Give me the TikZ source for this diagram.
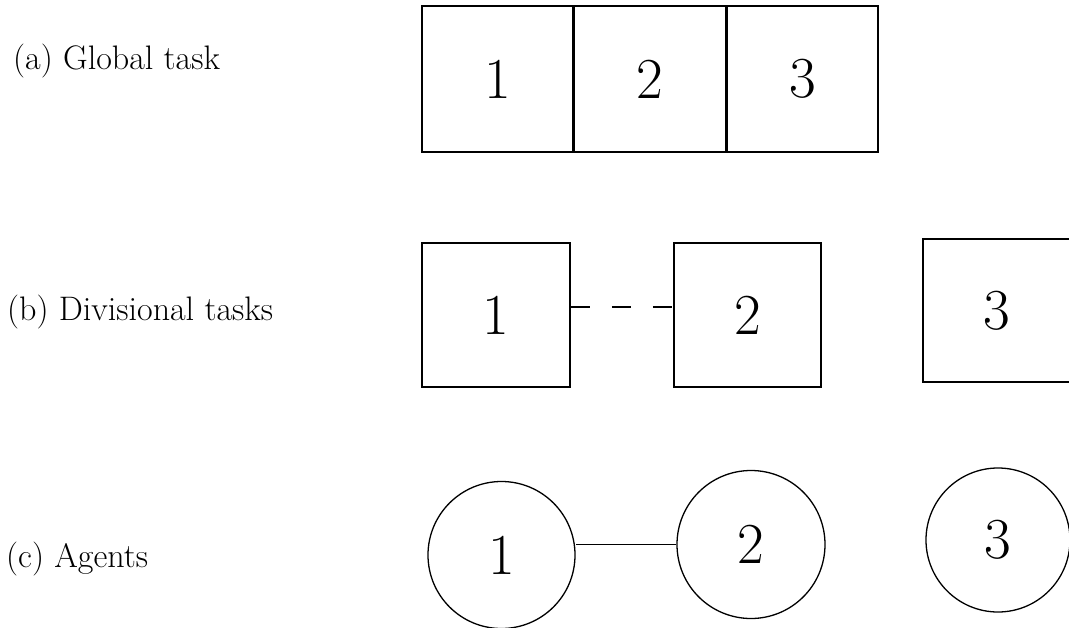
\documentclass[tikz,border=0pt]{standalone}
\usepackage{tikz}
\usetikzlibrary{positioning}

\begin{document}
\begin{tikzpicture}[x=1pt,y=-1pt,
  rowname/.style={anchor=base west,inner sep=0pt,font=\fontsize{34}{40}\selectfont},
  taskbox/.style={draw,line width=1.5pt,inner sep=0pt,minimum width=148pt,minimum height=144pt,
    font=\fontsize{58}{58}\selectfont},
  agent/.style={draw,circle,line width=1.3pt,inner sep=0pt,minimum size=147pt,
    font=\fontsize{58}{58}\selectfont},
  taskdash/.style={line width=1.5pt,dash pattern=on 19pt off 22pt}]
  \useasboundingbox (0,0) rectangle (1069,627);
  \node[rowname] (ra) at (13,69) {(a) Global task};
  \node[rowname] (rb) at (7,320) {(b) Divisional tasks};
  \node[rowname] (rc) at (6,567) {(c) Agents};
  \node[taskbox,minimum width=151pt,minimum height=146pt] (g1) at (497.5,79) {1};
  \node[taskbox,minimum width=151pt,minimum height=146pt,right=0pt of g1] (g2) {2};
  \node[taskbox,minimum width=151pt,minimum height=146pt,right=0pt of g2] (g3) {3};
  \node[taskbox] (d1) at (496,315) {1};
  \node[taskbox,minimum width=147pt] (d2) at (747.5,315) {2};
  \node[taskbox,minimum width=147pt,minimum height=143pt] (d3) at (996.5,310.5) {3};
  \draw[taskdash] ([yshift=8pt]d1.east) -- ([yshift=8pt]d2.west);
  \node[agent] (a1) at (501.5,555) {1};
  \node[agent,minimum size=148pt] (a2) at (751,544.5) {2};
  \node[agent,minimum size=144pt] (a3) at (998,540) {3};
  \draw[line width=1.3pt] (a2.west) -- (a2.west -| a1.east);
\end{tikzpicture}
\end{document}
